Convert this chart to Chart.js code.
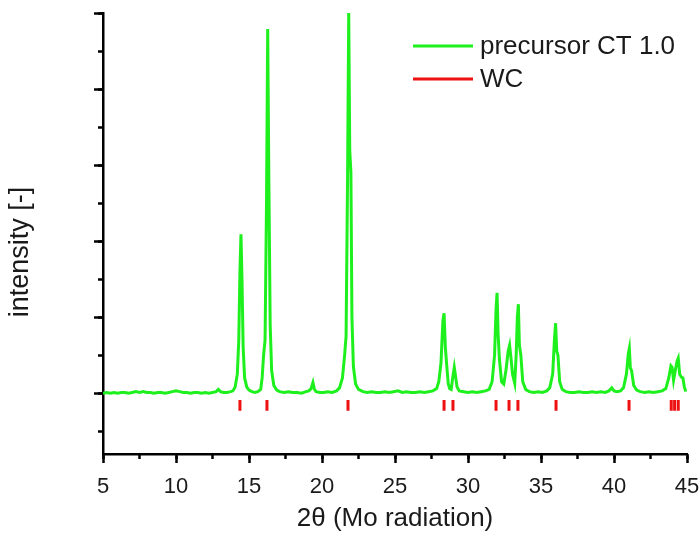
<!DOCTYPE html>
<html>
<head>
<meta charset="utf-8">
<title>precursor CT 1.0 - XRD</title>
<script src="https://cdn.jsdelivr.net/npm/chart.js@4.4.1/dist/chart.umd.min.js"></script>
<style>
    html, body { margin: 0; padding: 0; background: #fff; }
    #wrap { width: 700px; height: 534px; position: relative; }
</style>
</head>
<body>
<div id="wrap"><canvas id="xrd"></canvas></div>
<script>
// ---------------------------------------------------------------------------
// data
// ---------------------------------------------------------------------------
const twoTheta = [
    5.0, 5.25, 5.5, 5.75, 6.0, 6.25, 6.5, 6.75, 7.0, 7.25, 7.5, 7.75, 8.0, 8.25, 8.5, 8.75,
    9.0, 9.25, 9.5, 9.75, 10.0, 10.25, 10.5, 10.75, 11.0, 11.25, 11.5, 11.75, 12.0, 12.25,
    12.5, 12.75, 12.9, 13.05, 13.25, 13.5, 13.75, 13.9, 14.05, 14.2, 14.3, 14.38, 14.45,
    14.52, 14.6, 14.7, 14.85, 15.0, 15.2, 15.4, 15.6, 15.8, 15.9, 16.0, 16.1, 16.2, 16.28,
    16.36, 16.45, 16.55, 16.7, 16.9, 17.1, 17.4, 17.7, 18.0, 18.3, 18.6, 18.9, 19.1, 19.25,
    19.38, 19.48, 19.6, 19.85, 20.1, 20.4, 20.7, 21.0, 21.2, 21.4, 21.55, 21.65, 21.75, 21.83,
    21.9, 21.98, 22.05, 22.15, 22.3, 22.5, 22.8, 23.1, 23.4, 23.7, 24.0, 24.3, 24.6, 24.9,
    25.2, 25.5, 25.8, 26.1, 26.4, 26.7, 27.0, 27.3, 27.6, 27.85, 28.0, 28.15, 28.28, 28.36,
    28.45, 28.55, 28.65, 28.75, 28.85, 28.95, 29.06, 29.15, 29.25, 29.4, 29.7, 30.0, 30.3,
    30.6, 30.9, 31.2, 31.45, 31.65, 31.82, 31.92, 31.99, 32.06, 32.15, 32.3, 32.45, 32.6,
    32.75, 32.85, 32.95, 33.05, 33.2, 33.3, 33.38, 33.45, 33.52, 33.62, 33.75, 33.95, 34.2,
    34.5, 34.8, 35.1, 35.4, 35.6, 35.8, 35.92, 36.0, 36.08, 36.16, 36.28, 36.45, 36.7, 37.0,
    37.3, 37.6, 37.9, 38.2, 38.5, 38.8, 39.1, 39.4, 39.65, 39.85, 40.0, 40.2, 40.45, 40.65,
    40.85, 40.98, 41.05, 41.12, 41.2, 41.35, 41.55, 41.8, 42.1, 42.4, 42.7, 43.0, 43.3, 43.55,
    43.75, 43.9, 43.98, 44.08, 44.2, 44.32, 44.4, 44.5, 44.62, 44.72, 44.82, 44.92
];
const intensity = [
    0.00, 0.01, 0.00, 0.01, 0.00, 0.01, 0.01, 0.00, 0.01, 0.02, 0.01, 0.02, 0.01, 0.01, 0.00, 0.01,
    0.01, 0.00, 0.01, 0.02, 0.03, 0.02, 0.01, 0.01, 0.00, 0.01, 0.01, 0.00, 0.01, 0.00,
    0.01, 0.02, 0.05, 0.02, 0.01, 0.01, 0.02, 0.03, 0.08, 0.25, 0.70, 1.60, 2.09,
    1.50, 0.60, 0.20, 0.08, 0.04, 0.02, 0.01, 0.02, 0.05, 0.20, 0.50, 0.70, 2.50, 4.79,
    2.80, 0.90, 0.30, 0.10, 0.04, 0.02, 0.01, 0.02, 0.01, 0.01, 0.00, 0.02, 0.03, 0.06,
    0.14, 0.05, 0.02, 0.01, 0.01, 0.02, 0.01, 0.03, 0.07, 0.20, 0.50, 0.75, 2.80, 5.00,
    3.20, 2.90, 1.00, 0.35, 0.12, 0.05, 0.02, 0.01, 0.02, 0.01, 0.01, 0.02, 0.01, 0.02,
    0.03, 0.01, 0.02, 0.01, 0.01, 0.02, 0.01, 0.02, 0.03, 0.06, 0.15, 0.40, 0.95, 1.05,
    0.60, 0.35, 0.12, 0.06, 0.05, 0.20, 0.34, 0.22, 0.08, 0.03, 0.02, 0.01, 0.02,
    0.01, 0.02, 0.03, 0.05, 0.15, 0.50, 1.10, 1.32, 0.79, 0.45, 0.15, 0.12, 0.30,
    0.55, 0.63, 0.45, 0.25, 0.13, 0.50, 1.00, 1.17, 0.63, 0.50, 0.15, 0.05, 0.02,
    0.01, 0.02, 0.01, 0.03, 0.07, 0.25, 0.70, 0.92, 0.55, 0.50, 0.15, 0.05, 0.02, 0.01,
    0.01, 0.02, 0.01, 0.01, 0.02, 0.01, 0.02, 0.01, 0.03, 0.07, 0.03, 0.02, 0.03, 0.07,
    0.25, 0.52, 0.59, 0.33, 0.30, 0.10, 0.04, 0.02, 0.01, 0.02, 0.01, 0.02, 0.03, 0.06,
    0.20, 0.36, 0.34, 0.17, 0.30, 0.42, 0.46, 0.25, 0.21, 0.20, 0.08, 0.02
];

// WC reference reflections (2theta) and the span of each marker
const wcPositions = [14.38, 16.23, 21.78, 28.36, 28.97, 31.92, 32.81, 33.42, 36.03, 41.03, 43.92, 44.15, 44.4];
const wcMarkTop = -0.09;
const wcMarkBottom = -0.23;

const xTicksMajor = [5, 10, 15, 20, 25, 30, 35, 40, 45];

// ---------------------------------------------------------------------------
const FONT = "'Liberation Sans', Arial, sans-serif";
const INK = "#1a1a1a";

const precursorData = twoTheta.map((t, i) => ({ x: t, y: intensity[i] }));
const wcData = [];
wcPositions.forEach(p => {
    wcData.push({ x: p, y: wcMarkTop });
    wcData.push({ x: p, y: wcMarkBottom });
    wcData.push({ x: p, y: null });
});

// legend inside the plot, upper right
const insideLegend = {
    id: "insideLegend",
    afterDraw(chart) {
        const ctx = chart.ctx;
        ctx.save();
        ctx.font = "26px " + FONT;
        ctx.textBaseline = "middle";
        chart.data.datasets.forEach((ds, i) => {
            const y = 46 + i * 33;
            ctx.strokeStyle = ds.borderColor;
            ctx.lineWidth = 3;
            ctx.beginPath();
            ctx.moveTo(413, y);
            ctx.lineTo(473, y);
            ctx.stroke();
            ctx.fillStyle = INK;
            ctx.fillText(ds.label, 480, y + 1);
        });
        ctx.restore();
    }
};

// y title sits a bit below the middle of the axis in the original
const yTitle = {
    id: "yTitle",
    afterDraw(chart) {
        const ctx = chart.ctx;
        ctx.save();
        ctx.translate(21, 252);
        ctx.rotate(-Math.PI / 2);
        ctx.font = "27px " + FONT;
        ctx.fillStyle = INK;
        ctx.textAlign = "center";
        ctx.textBaseline = "middle";
        ctx.fillText("intensity [-]", 0, 0);
        ctx.restore();
    }
};

const axisBlack = { display: true, color: "#000", width: 2.5 };

new Chart(document.getElementById("xrd"), {
    type: "line",
    data: {
        datasets: [
            {
                label: "precursor CT 1.0",
                data: precursorData,
                borderColor: "#1ef01e",
                borderWidth: 3,
                pointRadius: 0,
                tension: 0,
                xAxisID: "x",
                yAxisID: "y"
            },
            {
                label: "WC",
                data: wcData,
                borderColor: "#ee1111",
                borderWidth: 3,
                pointRadius: 0,
                spanGaps: false,
                xAxisID: "x",
                yAxisID: "y"
            }
        ]
    },
    options: {
        responsive: true,
        maintainAspectRatio: false,
        animation: false,
        layout: { padding: { top: 13, right: 13, left: 0, bottom: 0 } },
        plugins: {
            legend: { display: false },
            tooltip: { enabled: false }
        },
        scales: {
            x: {
                type: "linear",
                position: "bottom",
                weight: 1,
                min: 5,
                max: 45,
                border: axisBlack,
                grid: { drawOnChartArea: false, drawTicks: true, tickLength: 9, tickWidth: 2.5, tickColor: "#000" },
                afterBuildTicks: (scale) => { scale.ticks = xTicksMajor.map(v => ({ value: v })); },
                ticks: { font: { family: FONT, size: 22 }, color: INK, padding: 11, maxRotation: 0 },
                title: { display: true, text: "2θ (Mo radiation)", font: { family: FONT, size: 26 }, color: INK, padding: { top: 0, bottom: 0 } },
                afterFit: (scale) => {
                    scale.height = 80;
                    // let the "5" and "45" labels hang over the ends like the original
                    scale.paddingLeft = 0;
                    scale.paddingRight = 0;
                }
            },
            xMinor: {
                type: "linear",
                position: "bottom",
                weight: 0,
                min: 5,
                max: 45,
                border: { display: false },
                grid: { drawOnChartArea: false, drawTicks: true, tickLength: 5, tickWidth: 2.5, tickColor: "#000" },
                ticks: { stepSize: 2.5, display: false },
                afterFit: (scale) => { scale.height = 0; }
            },
            y: {
                type: "linear",
                position: "left",
                weight: 1,
                min: -0.8,
                max: 5,
                border: axisBlack,
                grid: { drawOnChartArea: false, drawTicks: true, tickLength: 9, tickWidth: 2.5, tickColor: "#000" },
                ticks: { stepSize: 1, display: false, includeBounds: false },
                afterFit: (scale) => { scale.width = 103; }
            },
            yMinor: {
                type: "linear",
                position: "left",
                weight: 0,
                min: -0.8,
                max: 5,
                border: { display: false },
                grid: { drawOnChartArea: false, drawTicks: true, tickLength: 5, tickWidth: 2.5, tickColor: "#000" },
                ticks: { stepSize: 0.5, display: false, includeBounds: false },
                afterFit: (scale) => { scale.width = 0; }
            }
        }
    },
    plugins: [insideLegend, yTitle]
});
</script>
</body>
</html>
